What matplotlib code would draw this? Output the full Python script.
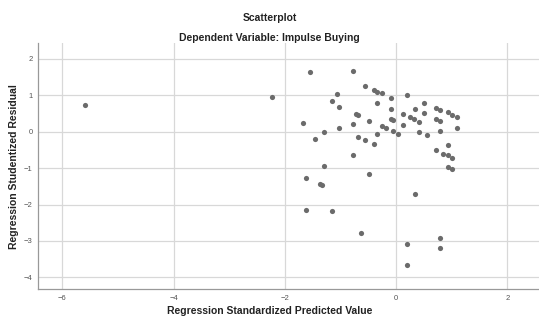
import matplotlib
matplotlib.use("Agg")
import matplotlib.pyplot as plt

plt.rcParams['font.family'] = ['Liberation Sans', 'DejaVu Sans']

# Regression standardized predicted value
pred = [-5.60, -2.24,
        -1.54, -0.77, -1.67, -1.07, -1.15, -1.03, -1.29, -1.45, -1.03,
        -0.56, -0.39, -0.34, -0.26, -0.35, -0.09, 0.20, -0.72, -0.69,
        -0.77, -0.48, -0.69, -0.56, -0.39, -0.35, -0.26, -0.18, -0.09,
        -0.09, -0.05, -0.05, 0.03, 0.12, 0.12, 0.25, 0.34, 0.33, 0.42,
        0.50, 0.50, 0.42, 0.55, 0.71, 0.79, 0.71, 0.79, 0.79, 0.93,
        1.01, 1.10, 1.10, 0.71, 0.93, 0.84, 0.93, 1.01, -0.77, -1.29,
        0.93, 1.01, -1.62, -0.48, -1.37, -1.33, 0.34, -1.62, -1.15,
        -0.64, 0.20, 0.79, 0.79, 0.20]

# Regression studentized residual
resid = [0.74, 0.95,
         1.64, 1.68, 0.25, 1.03, 0.84, 0.69, -0.02, -0.21, 0.10,
         1.25, 1.14, 1.09, 1.05, 0.80, 0.92, 1.01, 0.48, 0.47,
         0.22, 0.30, -0.14, -0.22, -0.34, -0.07, 0.16, 0.10, 0.63,
         0.35, 0.32, 0.02, -0.05, 0.48, 0.19, 0.40, 0.63, 0.35, 0.28,
         0.80, 0.51, -0.01, -0.10, 0.66, 0.60, 0.36, 0.30, 0.02, 0.53,
         0.46, 0.40, 0.11, -0.50, -0.36, -0.61, -0.65, -0.72, -0.65, -0.93,
         -0.96, -1.02, -1.26, -1.16, -1.45, -1.46, -1.71, -2.15, -2.17,
         -2.79, -3.08, -2.91, -3.20, -3.66]

fig = plt.figure(figsize=(5.39, 3.2), dpi=100)
ax = fig.add_axes([0.0705, 0.097, 0.9295, 0.769])

ax.scatter(pred, resid, s=14, color='#6b6b6b', zorder=3, linewidths=0)

ax.set_xlim(-6.44, 2.57)
ax.set_ylim(-4.32, 2.44)
ax.set_xticks([-6, -4, -2, 0, 2])
ax.set_yticks([2, 1, 0, -1, -2, -3, -4])
ax.grid(True, color='#d8d8d8', linewidth=0.9, zorder=0)
ax.tick_params(labelsize=5.5, colors='#555555', length=0, pad=4)
for s in ['top', 'right']:
    ax.spines[s].set_visible(False)
for s in ['left', 'bottom']:
    ax.spines[s].set_color('#999999')
    ax.spines[s].set_linewidth(0.9)

fig.text(0.5, 0.027, 'Regression Standardized Predicted Value', ha='center',
         va='center', fontsize=7.5, fontweight='bold', color='#222222')
fig.text(0.026, 0.48, 'Regression Studentized Residual', ha='center',
         va='center', rotation=90, fontsize=7.5, fontweight='bold',
         color='#222222')

fig.text(0.5, 0.944, 'Scatterplot', ha='center', va='center',
         fontsize=7.5, fontweight='bold', color='#222222')
fig.text(0.5, 0.881, 'Dependent Variable: Impulse Buying', ha='center',
         va='center', fontsize=7.5, fontweight='bold', color='#222222')

fig.savefig('out.png', dpi=100)
